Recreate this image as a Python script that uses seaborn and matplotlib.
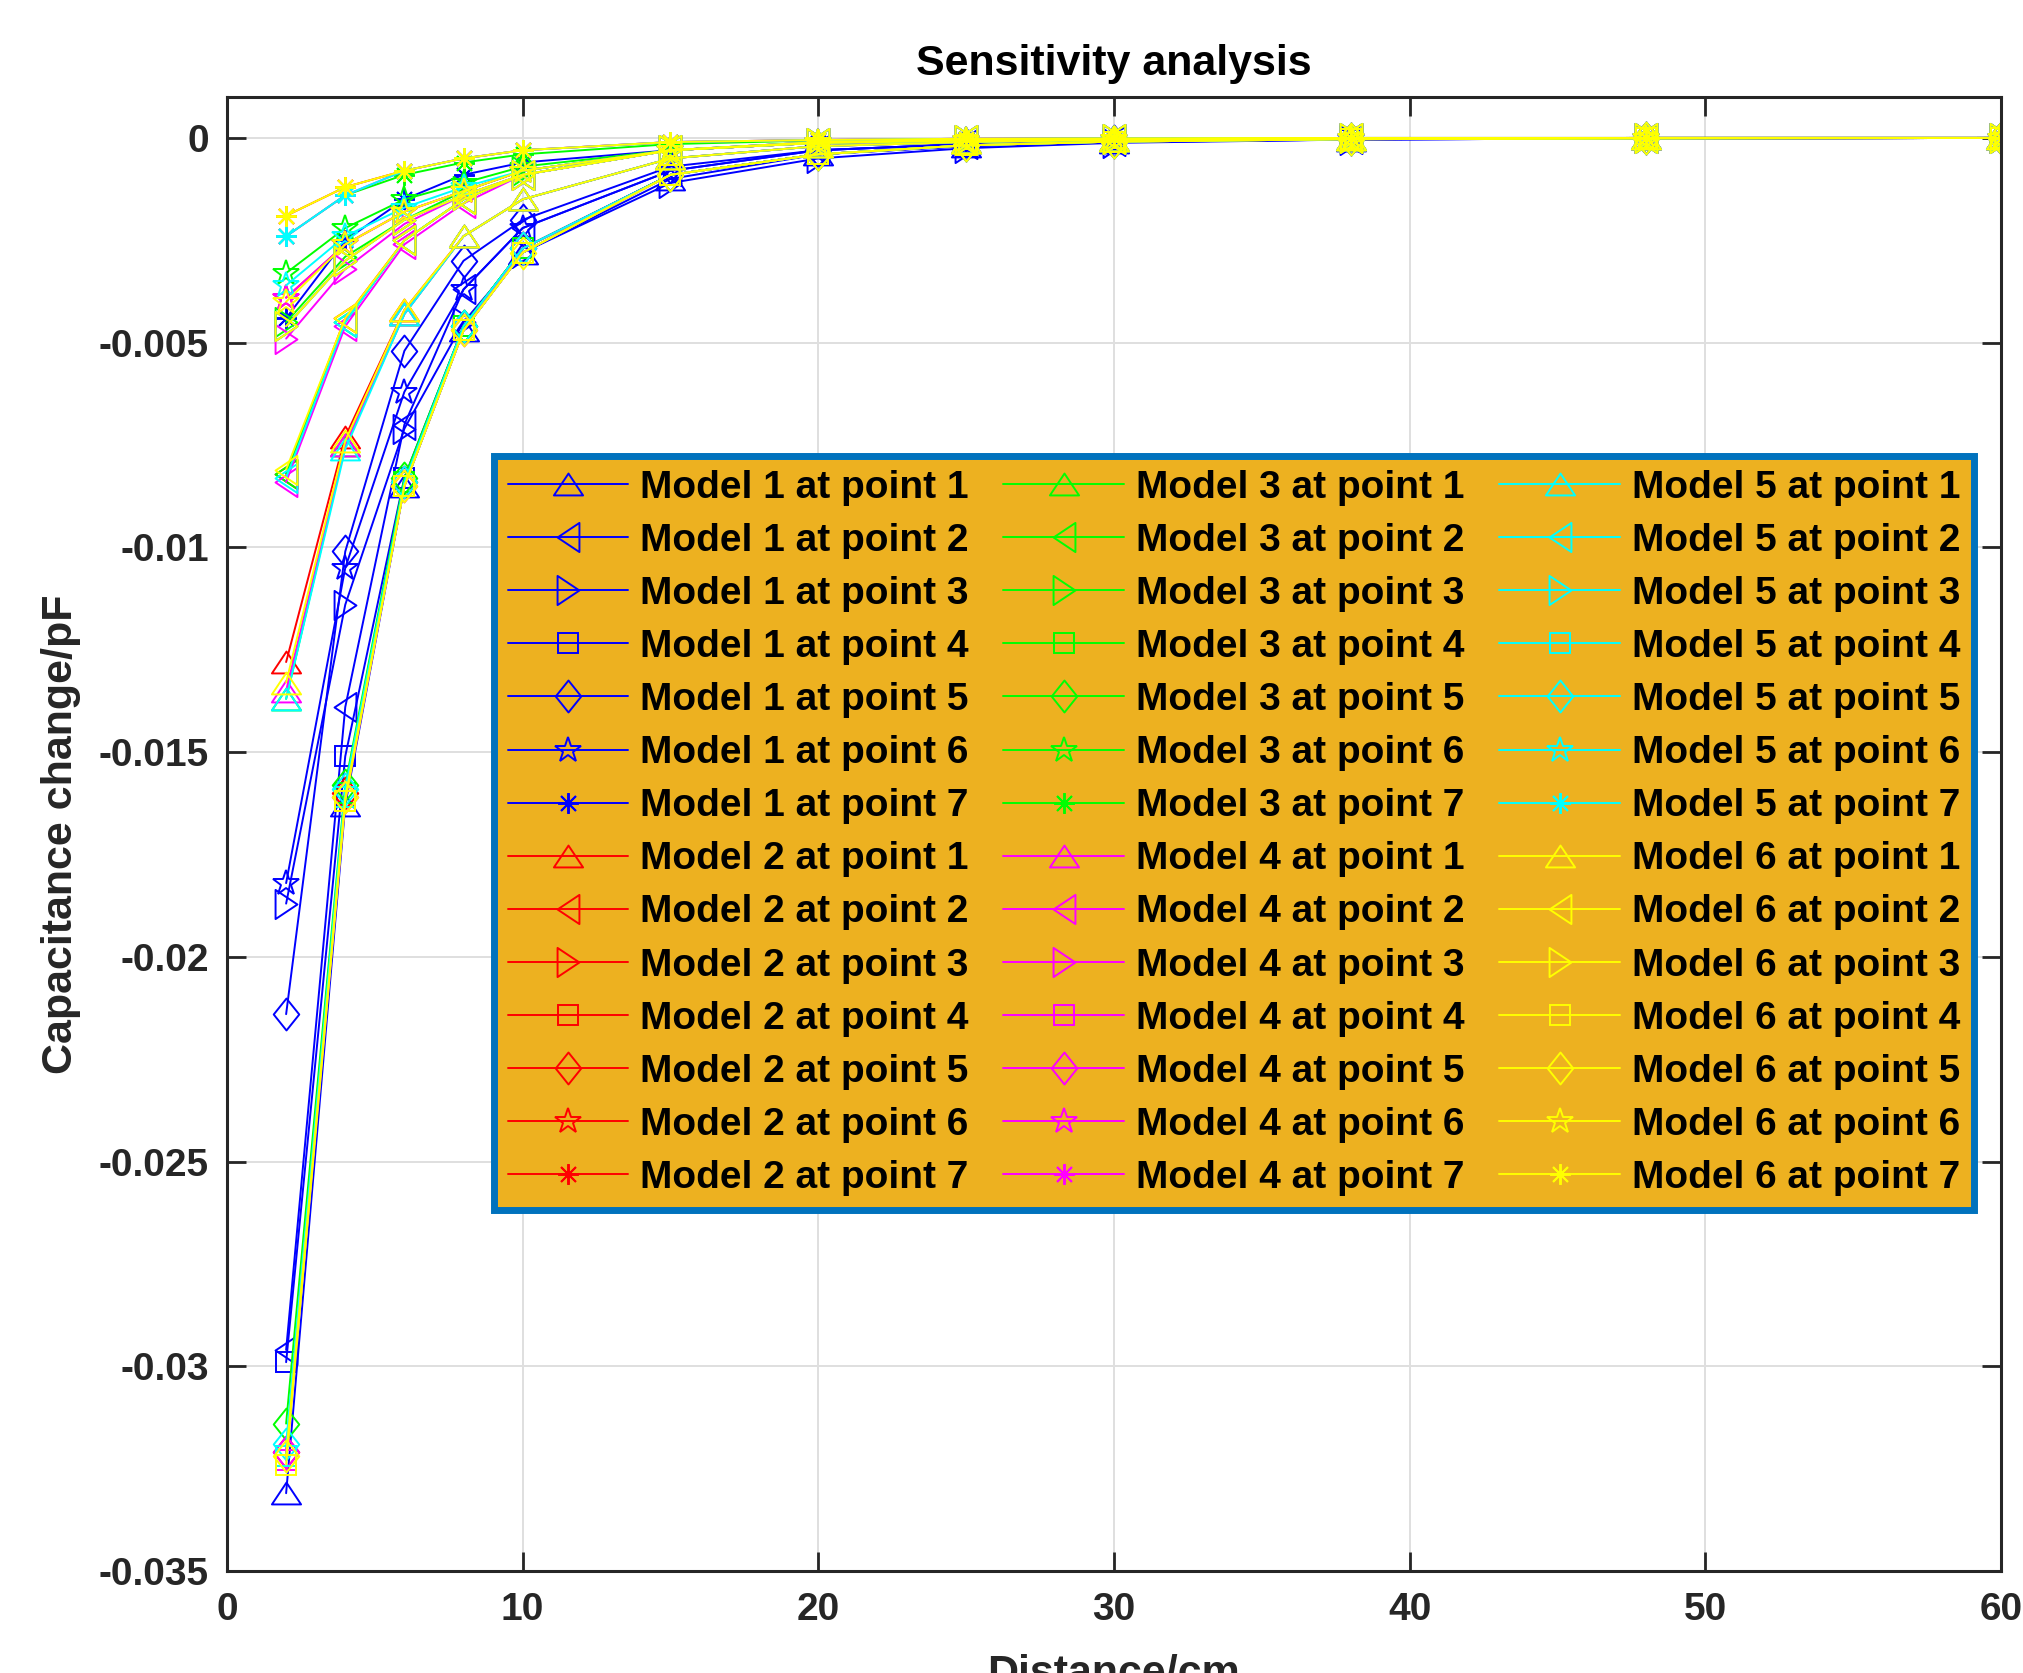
# Sensitivity analysis: capacitance change vs distance for 6 models x 7 points

import matplotlib
matplotlib.use("Agg")
import matplotlib.pyplot as plt
from matplotlib.path import Path
import seaborn as sns

# Data
distance_cm = [2, 4, 6, 8, 10, 15, 20, 25, 30, 38, 48, 60]

model1 = [
    [-0.0331, -0.0163, -0.0085, -0.0047, -0.0028, -0.0010, -0.0004, -0.0002, -0.0001, -0.00004, -0.00001, 0.0],
    [-0.0296, -0.0139, -0.0070, -0.0037, -0.0022, -0.0008, -0.0003, -0.00015, -0.00008, -0.00003, -0.00001, 0.0],
    [-0.0187, -0.0114, -0.0071, -0.0045, -0.0028, -0.0011, -0.0005, -0.00025, -0.00012, -0.00004, -0.00001, 0.0],
    [-0.0299, -0.0151, -0.0083, -0.0046, -0.0027, -0.0009, -0.0004, -0.0002, -0.0001, -0.00004, -0.00001, 0.0],
    [-0.0214, -0.0101, -0.0052, -0.0030, -0.0020, -0.0007, -0.0003, -0.00015, -0.00008, -0.00003, -0.00001, 0.0],
    [-0.0182, -0.0105, -0.0062, -0.0037, -0.0022, -0.0008, -0.0003, -0.00015, -0.00008, -0.00003, -0.00001, 0.0],
    [-0.0044, -0.0025, -0.0015, -0.0009, -0.0006, -0.0003, -0.00012, -0.00006, -0.00003, -0.00001, 0.0, 0.0],
]
model2 = [
    [-0.0128, -0.0073, -0.0042, -0.0024, -0.0015, -0.0005, -0.0002, -0.0001, -0.00005, -0.00002, 0.0, 0.0],
    [-0.0082, -0.0044, -0.0025, -0.0015, -0.0009, -0.0003, -0.00012, -0.00006, -0.00003, -0.00001, 0.0, 0.0],
    [-0.0046, -0.0030, -0.0020, -0.0014, -0.0009, -0.0003, -0.00012, -0.00006, -0.00003, -0.00001, 0.0, 0.0],
    [-0.0322, -0.0161, -0.0085, -0.0047, -0.0028, -0.0009, -0.0004, -0.00018, -0.00009, -0.00003, -0.00001, 0.0],
    [-0.0321, -0.0160, -0.0084, -0.0046, -0.0027, -0.0009, -0.0004, -0.00018, -0.00009, -0.00003, -0.00001, 0.0],
    [-0.0039, -0.0026, -0.0018, -0.0013, -0.0008, -0.0003, -0.0001, -0.00005, -0.00003, -0.00001, 0.0, 0.0],
    [-0.0019, -0.0012, -0.0008, -0.0005, -0.0003, -0.0001, -0.00005, -0.00002, -0.00001, 0.0, 0.0, 0.0],
]
model3 = [
    [-0.0137, -0.0075, -0.0043, -0.0024, -0.0015, -0.0005, -0.0002, -0.0001, -0.00005, -0.00002, 0.0, 0.0],
    [-0.0082, -0.0045, -0.0025, -0.0015, -0.0009, -0.0003, -0.00012, -0.00006, -0.00003, -0.00001, 0.0, 0.0],
    [-0.0045, -0.0029, -0.0020, -0.0013, -0.0008, -0.0003, -0.00012, -0.00006, -0.00003, -0.00001, 0.0, 0.0],
    [-0.0322, -0.0160, -0.0084, -0.0046, -0.0027, -0.0009, -0.0004, -0.00018, -0.00009, -0.00003, -0.00001, 0.0],
    [-0.0314, -0.0158, -0.0083, -0.0046, -0.0027, -0.0009, -0.0004, -0.00018, -0.00009, -0.00003, -0.00001, 0.0],
    [-0.0033, -0.0022, -0.0015, -0.0011, -0.0007, -0.0003, -0.0001, -0.00005, -0.00003, -0.00001, 0.0, 0.0],
    [-0.0024, -0.0014, -0.0009, -0.0006, -0.0004, -0.00015, -0.00006, -0.00003, -0.00001, 0.0, 0.0, 0.0],
]
model4 = [
    [-0.0135, -0.0075, -0.0043, -0.0024, -0.0015, -0.0005, -0.0002, -0.0001, -0.00005, -0.00002, 0.0, 0.0],
    [-0.0084, -0.0046, -0.0026, -0.0016, -0.0009, -0.0003, -0.00012, -0.00006, -0.00003, -0.00001, 0.0, 0.0],
    [-0.0049, -0.0032, -0.0021, -0.0014, -0.0009, -0.0003, -0.00012, -0.00006, -0.00003, -0.00001, 0.0, 0.0],
    [-0.0323, -0.0162, -0.0085, -0.0047, -0.0028, -0.0009, -0.0004, -0.00018, -0.00009, -0.00003, -0.00001, 0.0],
    [-0.0321, -0.0161, -0.0085, -0.0047, -0.0027, -0.0009, -0.0004, -0.00018, -0.00009, -0.00003, -0.00001, 0.0],
    [-0.0039, -0.0026, -0.0018, -0.0013, -0.0008, -0.0003, -0.0001, -0.00005, -0.00003, -0.00001, 0.0, 0.0],
    [-0.0024, -0.0014, -0.0008, -0.0005, -0.0003, -0.0001, -0.00005, -0.00002, -0.00001, 0.0, 0.0, 0.0],
]
model5 = [
    [-0.0137, -0.0076, -0.0043, -0.0024, -0.0015, -0.0005, -0.0002, -0.0001, -0.00005, -0.00002, 0.0, 0.0],
    [-0.0083, -0.0045, -0.0025, -0.0015, -0.0009, -0.0003, -0.00012, -0.00006, -0.00003, -0.00001, 0.0, 0.0],
    [-0.0046, -0.0030, -0.0020, -0.0014, -0.0009, -0.0003, -0.00012, -0.00006, -0.00003, -0.00001, 0.0, 0.0],
    [-0.0322, -0.0161, -0.0085, -0.0047, -0.0028, -0.0009, -0.0004, -0.00018, -0.00009, -0.00003, -0.00001, 0.0],
    [-0.0319, -0.0159, -0.0084, -0.0046, -0.0027, -0.0009, -0.0004, -0.00018, -0.00009, -0.00003, -0.00001, 0.0],
    [-0.0036, -0.0024, -0.0017, -0.0012, -0.0008, -0.0003, -0.0001, -0.00005, -0.00003, -0.00001, 0.0, 0.0],
    [-0.0024, -0.0014, -0.0008, -0.0005, -0.0003, -0.0001, -0.00005, -0.00002, -0.00001, 0.0, 0.0, 0.0],
]
model6 = [
    [-0.0133, -0.0074, -0.0042, -0.0024, -0.0015, -0.0005, -0.0002, -0.0001, -0.00005, -0.00002, 0.0, 0.0],
    [-0.0081, -0.0044, -0.0025, -0.0015, -0.0009, -0.0003, -0.00012, -0.00006, -0.00003, -0.00001, 0.0, 0.0],
    [-0.0046, -0.0030, -0.0020, -0.0014, -0.0009, -0.0003, -0.00012, -0.00006, -0.00003, -0.00001, 0.0, 0.0],
    [-0.0324, -0.0162, -0.0085, -0.0047, -0.0028, -0.0009, -0.0004, -0.00018, -0.00009, -0.00003, -0.00001, 0.0],
    [-0.0322, -0.0161, -0.0085, -0.0047, -0.0028, -0.0009, -0.0004, -0.00018, -0.00009, -0.00003, -0.00001, 0.0],
    [-0.0040, -0.0026, -0.0018, -0.0013, -0.0008, -0.0003, -0.0001, -0.00005, -0.00003, -0.00001, 0.0, 0.0],
    [-0.0019, -0.0012, -0.0008, -0.0005, -0.0003, -0.0001, -0.00005, -0.00002, -0.00001, 0.0, 0.0, 0.0],
]
models = [model1, model2, model3, model4, model5, model6]
model_colors = ["#0000ff", "#ff0000", "#00ff00", "#ff00ff", "#00ffff", "#ffff00"]

x_ticks = [0, 10, 20, 30, 40, 50, 60]
y_ticks = [0, -0.005, -0.01, -0.015, -0.02, -0.025, -0.03, -0.035]
y_tick_labels = ["0", "-0.005", "-0.01", "-0.015", "-0.02", "-0.025", "-0.03", "-0.035"]

# MATLAB-like markers: triangles, square, diamond, pentagram, asterisk
def closed(verts):
    return Path(verts + [verts[0]], closed=True)

tri_up = closed([(-1, -0.75), (1, -0.75), (0, 0.75)])
tri_left = closed([(0.75, -1), (0.75, 1), (-0.75, 0)])
tri_right = closed([(-0.75, -1), (-0.75, 1), (0.75, 0)])
diamond = closed([(0, 1), (0.8, 0), (0, -1), (-0.8, 0)])
point_markers = [tri_up, tri_left, tri_right, "s", diamond, "*", (8, 2, 0)]
marker_sizes = [21, 21, 21, 14.5, 23, 19, 15]

sns.set_theme(style="ticks")
plt.rcParams["font.family"] = ["Liberation Sans", "DejaVu Sans"]
plt.rcParams["font.weight"] = "bold"
plt.rcParams["axes.labelweight"] = "bold"
plt.rcParams["axes.titleweight"] = "bold"

fig = plt.figure(figsize=(20.24, 16.73), dpi=100)
ax = fig.add_axes([0.11215, 0.06097, 0.87648, 0.88105])

for m, model in enumerate(models):
    col = model_colors[m]
    for p, values in enumerate(model):
        sns.lineplot(x=distance_cm, y=values, ax=ax, color=col,
                     marker=point_markers[p], markersize=marker_sizes[p],
                     markerfacecolor="none", markeredgecolor=col,
                     markeredgewidth=1.4, linewidth=1.4,
                     errorbar=None, sort=False,
                     label=f"Model {m + 1} at point {p + 1}")

ax.set_xlim(0, 60)
ax.set_ylim(-0.035, 0.001)
ax.set_xticks(x_ticks)
ax.set_yticks(y_ticks)
ax.set_yticklabels(y_tick_labels)

ax.grid(True, color="#dfdfdf", linewidth=1.4)
ax.set_axisbelow(True)
for s in ax.spines.values():
    s.set_color("#262626")
    s.set_linewidth(2.2)
ax.tick_params(direction="in", length=13.5, width=2, top=True, right=True,
               labelsize=28, pad=13, colors="#262626")
ax.tick_params(axis="x", pad=15)

ax.set_title("Sensitivity analysis", fontsize=31, fontweight="bold", pad=16, color="black")
ax.set_xlabel("Distance/cm", fontsize=31, fontweight="bold", labelpad=19, color="#262626")
ax.set_ylabel("Capacitance change/pF", fontsize=31, fontweight="bold", labelpad=13, color="#262626")

leg = ax.legend(ncol=3, loc="upper left",
                bbox_to_anchor=(494 / 2024, 1 - 456 / 1673),
                bbox_transform=fig.transFigure,
                prop={"family": ["Liberation Sans"], "weight": "bold", "size": 28},
                labelcolor="black",
                facecolor="#EDB120", edgecolor="#0072BD", framealpha=1,
                fancybox=False, borderaxespad=0, handlelength=3.1,
                handletextpad=0.3, columnspacing=0.9, labelspacing=0.44,
                borderpad=0.35)
leg.get_frame().set_linewidth(5)

fig.savefig("out.png", dpi=100)
